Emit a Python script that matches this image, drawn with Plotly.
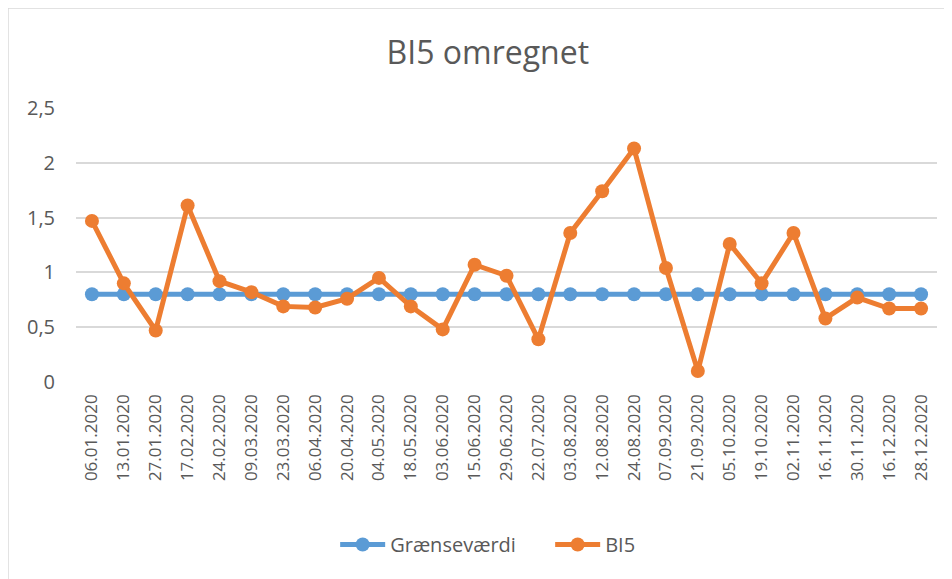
import plotly.graph_objects as go

dates = ["06.01.2020", "13.01.2020", "27.01.2020", "17.02.2020", "24.02.2020", "09.03.2020",
         "23.03.2020", "06.04.2020", "20.04.2020", "04.05.2020", "18.05.2020", "03.06.2020",
         "15.06.2020", "29.06.2020", "22.07.2020", "03.08.2020", "12.08.2020", "24.08.2020",
         "07.09.2020", "21.09.2020", "05.10.2020", "19.10.2020", "02.11.2020", "16.11.2020",
         "30.11.2020", "16.12.2020", "28.12.2020"]
graensevaerdi = [0.8] * 27
bi5 = [1.47, 0.90, 0.47, 1.61, 0.92, 0.82, 0.69, 0.68, 0.76, 0.95, 0.69, 0.48, 1.07,
       0.97, 0.39, 1.36, 1.74, 2.13, 1.04, 0.10, 1.26, 0.90, 1.36, 0.58, 0.77, 0.67, 0.67]
y_ticks = [0, 0.5, 1, 1.5, 2, 2.5]
y_tick_labels = ["0", "0,5", "1", "1,5", "2", "2,5"]

FONT = "Open Sans"
GRAY = "#595959"

fig = go.Figure()
fig.add_trace(go.Scatter(x=dates, y=graensevaerdi, name="Grænseværdi", mode="lines+markers",
                         line=dict(color="#5b9bd5", width=5),
                         marker=dict(color="#5b9bd5", size=14)))
fig.add_trace(go.Scatter(x=dates, y=bi5, name="BI5", mode="lines+markers",
                         line=dict(color="#ed7d31", width=5),
                         marker=dict(color="#ed7d31", size=14)))

fig.update_layout(
    template="none",
    width=952, height=579,
    paper_bgcolor="white", plot_bgcolor="white",
    margin=dict(l=68, r=23, t=100, b=205, autoexpand=False),
    font=dict(family=FONT, size=17, color=GRAY),
    title=dict(text="BI5 omregnet", x=0.504, xanchor="center", xref="container",
               y=0.922, yanchor="middle", yref="container",
               font=dict(family=FONT, size=32, color=GRAY)),
    showlegend=True,
    legend=dict(orientation="h", x=0.301, xanchor="left", y=-0.522, yanchor="top",
                font=dict(family=FONT, size=20, color=GRAY), itemwidth=45,
                entrywidth=155, entrywidthmode="pixels", bgcolor="rgba(0,0,0,0)"),
    xaxis=dict(type="category", range=[-0.5, 26.5], tickangle=-90, automargin=False,
               showgrid=False, showline=False, ticks="", zeroline=False,
               ticklabelstandoff=8,
               tickfont=dict(family=FONT, size=17, color=GRAY)),
    yaxis=dict(range=[0, 2.5], tickvals=y_ticks, ticktext=y_tick_labels, automargin=False,
               showgrid=True, gridcolor="#d9d9d9", gridwidth=1.5, zeroline=False,
               showline=False, ticks="", ticklen=0, ticklabelstandoff=20,
               tickfont=dict(family=FONT, size=20, color=GRAY)),
)
fig.add_shape(type="rect", xref="paper", yref="paper",
              x0=-0.079, x1=1.2, y0=-1.0, y1=1.365,
              line=dict(color="#d9d9d9", width=1.5), fillcolor="rgba(0,0,0,0)", layer="below")

fig.write_html("out.html")
